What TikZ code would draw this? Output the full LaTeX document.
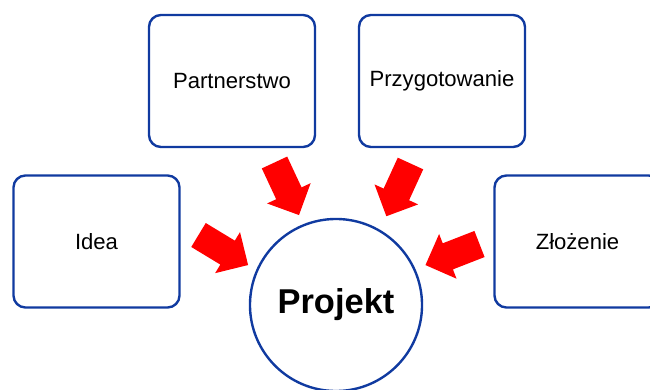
\documentclass[tikz,border=0pt]{standalone}
\usepackage{fontspec}
\setmainfont{Liberation Sans}
\usepackage{tikz}
\usepackage{xcolor}
\definecolor{ramka}{RGB}{16,58,160}

\tikzset{
  etap/.style = {draw=ramka, line width=1.7pt, rounded corners=0.3cm, fill=white,
                 minimum width=4.15cm, minimum height=3.3cm, inner sep=0pt,
                 font=\fontsize{15.7}{18}\selectfont},
  srodek/.style = {draw=ramka, line width=1.7pt, circle, minimum size=4.3cm, inner sep=0pt,
                   font=\fontsize{24.5}{28}\bfseries\selectfont},
  strzalka/.pic = {\fill[red] (0,-14) -- (34,-14) -- (34,-24) -- (58,0) -- (34,24) -- (34,14) -- (0,14) -- cycle;}
}

\begin{document}
\begin{tikzpicture}[x=0.025cm, y=0.025cm]
\useasboundingbox (0,0) rectangle (650,389);

\node[etap] (partner) at (232,308) {Partnerstwo};
\node[etap] (przyg) at (442,308) {Przygotowanie};
\node[etap] (idea) at (96.5,147.5) {Idea};
\node[etap] (zloz) at (577.5,147.5) {Złożenie};
\node[srodek] (proj) at (336,84) {Projekt};

\pic[rotate=-31.2] at (198.5,154) {strzalka};
\pic[rotate=-65] at (274.5,226.5) {strzalka};
\pic[rotate=-114.6] at (410.5,225.5) {strzalka};
\pic[rotate=-158.7] at (479.5,145) {strzalka};
\end{tikzpicture}
\end{document}
